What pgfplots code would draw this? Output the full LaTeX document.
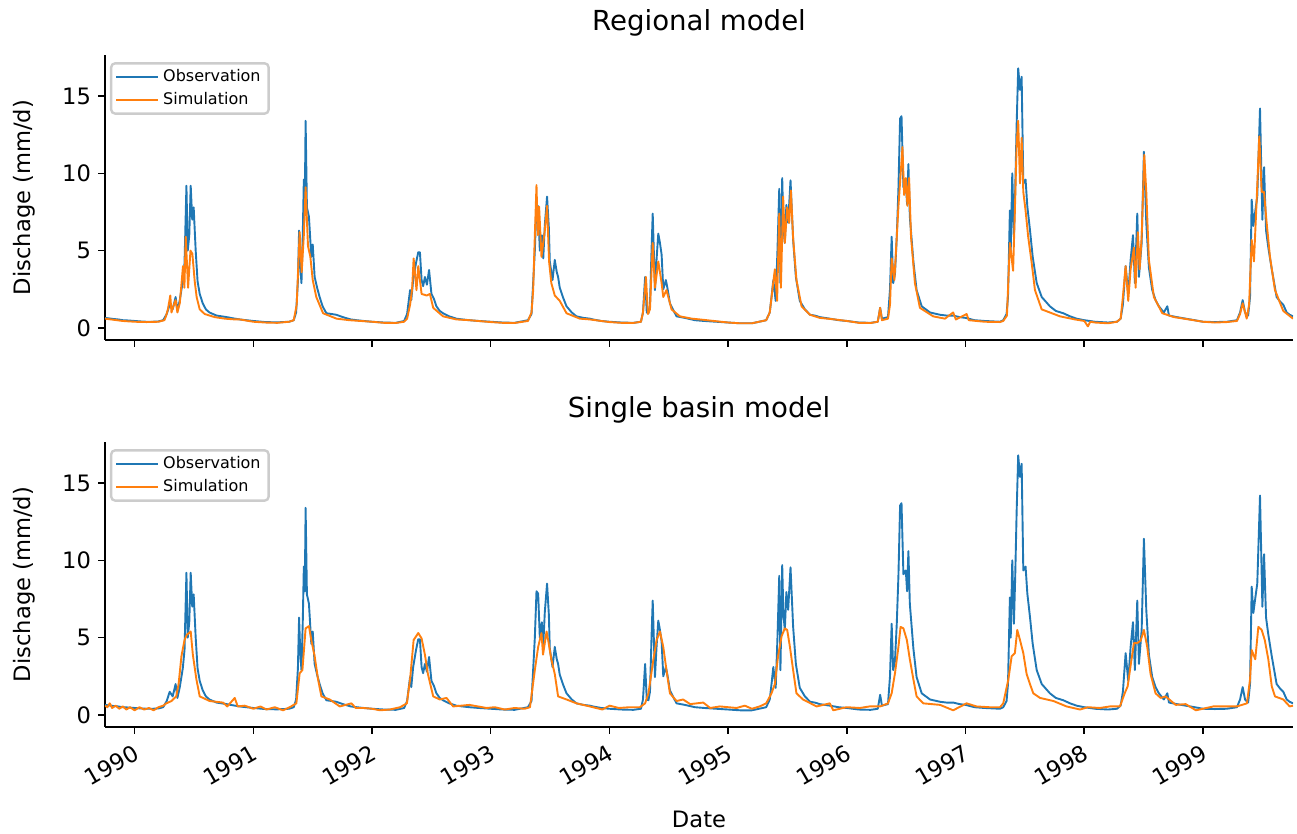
\documentclass[border=0pt]{standalone}
\usepackage{pgfplots}
\pgfplotsset{compat=1.18}
\usepackage{pgfplotstable}
\usepackage{fontspec}
\setmainfont{DejaVu Sans}
\definecolor{tabblue}{HTML}{1F77B4}
\definecolor{taborange}{HTML}{FF7F0E}

% observed discharge (mm/d), time in decimal years
\pgfplotstableread{
t q
1989.75 0.65
1989.78 0.62
1989.82 0.58
1989.86 0.55
1989.90 0.50
1989.95 0.48
1990.00 0.45
1990.05 0.42
1990.10 0.40
1990.15 0.40
1990.20 0.42
1990.24 0.50
1990.27 0.90
1990.295 1.5
1990.32 1.2
1990.345 2.0
1990.36 1.1
1990.38 1.8
1990.405 3.0
1990.42 4.2
1990.436 9.2
1990.447 5.0
1990.46 6.0
1990.472 9.2
1990.485 7.0
1990.497 7.8
1990.514 5.0
1990.53 3.0
1990.548 2.2
1990.573 1.6
1990.60 1.2
1990.63 1.0
1990.69 0.80
1990.775 0.70
1990.83 0.62
1990.885 0.55
1990.94 0.50
1991.00 0.45
1991.10 0.38
1991.20 0.36
1991.30 0.40
1991.34 0.50
1991.36 1.0
1991.375 3.0
1991.385 6.3
1991.395 4.0
1991.405 2.9
1991.416 6.0
1991.425 9.6
1991.433 8.0
1991.44 13.4
1991.451 7.8
1991.468 7.2
1991.488 4.6
1991.50 5.4
1991.516 3.3
1991.537 2.6
1991.558 2.0
1991.583 1.4
1991.615 0.95
1991.66 0.90
1991.70 0.85
1991.735 0.75
1991.775 0.65
1991.82 0.55
1991.87 0.50
1991.93 0.45
1992.00 0.40
1992.10 0.35
1992.20 0.33
1992.27 0.45
1992.295 0.9
1992.32 2.45
1992.33 1.8
1992.346 3.1
1992.37 4.2
1992.389 4.9
1992.403 4.9
1992.417 3.1
1992.43 2.7
1992.445 3.3
1992.462 2.8
1992.48 3.75
1992.50 2.2
1992.52 1.9
1992.542 1.4
1992.57 1.1
1992.598 0.95
1992.65 0.75
1992.71 0.60
1992.76 0.55
1992.82 0.50
1992.90 0.45
1993.00 0.40
1993.10 0.35
1993.20 0.33
1993.313 0.50
1993.343 0.9
1993.354 2.5
1993.371 5.0
1993.385 8.0
1993.399 7.85
1993.413 5.0
1993.43 6.0
1993.442 4.5
1993.455 6.65
1993.474 8.5
1993.489 6.5
1993.497 4.3
1993.52 3.1
1993.539 4.4
1993.556 3.6
1993.567 3.3
1993.581 2.6
1993.607 2.0
1993.638 1.4
1993.682 1.0
1993.722 0.75
1993.78 0.65
1993.834 0.60
1993.86 0.55
1993.93 0.45
1994.00 0.40
1994.10 0.35
1994.20 0.33
1994.265 0.40
1994.282 1.0
1994.30 3.3
1994.314 1.0
1994.328 0.95
1994.341 1.5
1994.354 5.0
1994.364 7.4
1994.383 2.45
1994.397 4.5
1994.411 6.1
1994.425 5.5
1994.439 4.75
1994.453 2.5
1994.475 3.1
1994.49 2.5
1994.509 1.6
1994.534 1.2
1994.565 0.75
1994.635 0.65
1994.72 0.50
1994.80 0.45
1994.90 0.40
1995.00 0.35
1995.10 0.30
1995.20 0.30
1995.32 0.50
1995.35 1.0
1995.365 2.0
1995.38 3.1
1995.40 1.75
1995.415 5.0
1995.43 9.0
1995.44 2.9
1995.455 9.7
1995.465 6.5
1995.477 5.5
1995.49 7.95
1995.505 6.8
1995.525 9.55
1995.547 5.7
1995.57 3.3
1995.603 1.75
1995.646 1.2
1995.69 0.85
1995.73 0.80
1995.772 0.70
1995.856 0.60
1995.93 0.50
1996.00 0.45
1996.10 0.35
1996.20 0.33
1996.26 0.40
1996.28 1.3
1996.295 0.60
1996.346 0.70
1996.363 2.5
1996.377 5.9
1996.39 2.9
1996.405 3.5
1996.42 5.9
1996.434 9.0
1996.448 13.55
1996.46 13.7
1996.476 9.1
1996.496 9.35
1996.507 8.0
1996.518 10.6
1996.53 7.2
1996.56 4.3
1996.587 2.45
1996.63 1.4
1996.70 1.0
1996.785 0.85
1996.84 0.80
1996.895 0.80
1996.95 0.70
1997.00 0.65
1997.075 0.50
1997.16 0.45
1997.29 0.40
1997.317 0.50
1997.345 0.9
1997.357 2.0
1997.373 7.6
1997.38 5.0
1997.393 10.0
1997.407 5.9
1997.418 9.0
1997.43 13.2
1997.443 16.8
1997.458 15.4
1997.472 16.25
1997.486 9.35
1997.505 9.6
1997.52 7.85
1997.542 6.35
1997.565 4.6
1997.599 2.9
1997.641 2.0
1997.71 1.4
1997.76 1.1
1997.823 0.95
1997.88 0.75
1997.935 0.60
1998.00 0.50
1998.09 0.40
1998.20 0.35
1998.275 0.40
1998.306 0.60
1998.325 1.5
1998.348 4.0
1998.37 2.2
1998.39 4.4
1998.41 6.0
1998.426 2.9
1998.446 7.4
1998.46 3.3
1998.483 5.5
1998.502 11.4
1998.522 6.8
1998.544 3.9
1998.572 2.45
1998.60 1.8
1998.628 1.4
1998.67 1.0
1998.699 1.4
1998.713 0.80
1998.78 0.70
1998.854 0.60
1998.93 0.50
1999.00 0.40
1999.10 0.38
1999.20 0.40
1999.286 0.50
1999.312 1.0
1999.334 1.8
1999.354 1.0
1999.38 0.8
1999.396 2.0
1999.41 8.3
1999.424 6.6
1999.441 7.6
1999.457 8.5
1999.48 14.2
1999.50 7.0
1999.514 10.4
1999.531 6.3
1999.55 5.2
1999.579 3.8
1999.62 2.0
1999.65 1.7
1999.676 1.5
1999.705 1.0
1999.73 0.85
1999.758 0.75
}\obs

% regional model simulation
\pgfplotstableread{
t q
1989.75 0.60
1989.80 0.55
1989.90 0.45
1990.00 0.40
1990.10 0.38
1990.20 0.40
1990.25 0.50
1990.261 0.70
1990.28 1.2
1990.30 2.1
1990.31 1.0
1990.33 1.5
1990.345 1.8
1990.36 1.0
1990.38 1.6
1990.396 3.0
1990.407 4.0
1990.419 2.6
1990.43 5.9
1990.45 2.6
1990.47 5.0
1990.486 4.8
1990.506 3.0
1990.522 2.0
1990.548 1.2
1990.59 0.90
1990.674 0.70
1990.76 0.60
1990.843 0.55
1990.885 0.55
1991.00 0.40
1991.10 0.35
1991.20 0.33
1991.30 0.40
1991.34 0.50
1991.365 1.5
1991.39 6.2
1991.407 3.6
1991.425 6.0
1991.44 9.1
1991.46 5.3
1991.48 4.6
1991.50 3.1
1991.53 2.0
1991.587 0.95
1991.70 0.60
1991.81 0.50
1992.00 0.40
1992.10 0.33
1992.20 0.32
1992.27 0.40
1992.295 0.60
1992.32 1.5
1992.337 2.5
1992.35 4.5
1992.374 2.45
1992.389 4.0
1992.417 2.2
1992.46 2.1
1992.487 2.2
1992.515 1.3
1992.598 0.75
1992.71 0.55
1992.82 0.50
1993.00 0.38
1993.10 0.33
1993.20 0.32
1993.313 0.45
1993.343 1.0
1993.357 2.45
1993.371 6.0
1993.385 9.25
1993.396 6.0
1993.407 7.85
1993.427 4.6
1993.455 6.3
1993.474 7.9
1993.491 4.3
1993.51 2.9
1993.539 2.1
1993.581 1.75
1993.638 0.95
1993.75 0.60
1993.834 0.55
1994.00 0.38
1994.10 0.33
1994.20 0.32
1994.265 0.40
1994.282 1.0
1994.307 3.3
1994.324 0.90
1994.341 1.2
1994.364 5.5
1994.383 2.6
1994.411 4.3
1994.439 2.9
1994.453 2.0
1994.48 2.45
1994.523 1.2
1994.593 0.75
1994.694 0.60
1994.76 0.55
1995.00 0.35
1995.10 0.30
1995.20 0.30
1995.32 0.50
1995.35 1.0
1995.393 3.8
1995.412 1.75
1995.43 7.4
1995.444 2.6
1995.463 8.5
1995.477 5.5
1995.497 7.8
1995.514 6.8
1995.528 8.9
1995.547 5.8
1995.575 3.1
1995.618 1.4
1995.69 0.85
1995.772 0.65
1995.898 0.55
1996.00 0.45
1996.10 0.33
1996.20 0.32
1996.26 0.40
1996.28 1.3
1996.295 0.50
1996.346 0.60
1996.363 1.5
1996.377 4.5
1996.40 3.1
1996.434 7.85
1996.468 11.7
1996.482 8.6
1996.496 9.7
1996.51 7.9
1996.524 9.7
1996.54 5.9
1996.573 2.9
1996.615 1.3
1996.727 0.75
1996.826 0.60
1996.895 1.0
1996.918 0.55
1997.008 0.90
1997.027 0.50
1997.16 0.40
1997.29 0.38
1997.317 0.45
1997.348 0.80
1997.373 5.5
1997.40 3.7
1997.415 7.6
1997.43 11.9
1997.443 13.4
1997.458 9.35
1997.472 12.3
1997.486 8.8
1997.505 7.6
1997.527 5.9
1997.555 4.3
1997.584 2.45
1997.641 1.2
1997.795 0.75
1997.921 0.55
1998.00 0.45
1998.03 0.10
1998.05 0.40
1998.09 0.35
1998.20 0.30
1998.275 0.40
1998.306 0.60
1998.325 2.0
1998.348 4.0
1998.37 1.75
1998.39 3.8
1998.418 5.2
1998.432 2.6
1998.451 6.2
1998.466 3.8
1998.483 5.9
1998.505 11.2
1998.522 8.8
1998.544 4.4
1998.586 2.0
1998.657 0.95
1998.756 0.70
1998.88 0.55
1999.00 0.40
1999.10 0.35
1999.20 0.38
1999.286 0.45
1999.312 0.90
1999.334 1.6
1999.368 0.60
1999.388 1.5
1999.41 5.7
1999.429 4.3
1999.452 8.3
1999.474 12.4
1999.494 8.8
1999.514 8.8
1999.536 6.8
1999.564 4.6
1999.606 2.45
1999.676 1.1
1999.758 0.60
}\simreg

% single basin model simulation
\pgfplotstableread{
t q
1989.75 0.60
1989.77 0.50
1989.79 0.75
1989.81 0.45
1989.84 0.60
1989.87 0.40
1989.90 0.55
1989.93 0.35
1989.96 0.50
1990.00 0.30
1990.04 0.50
1990.08 0.35
1990.12 0.45
1990.16 0.30
1990.20 0.50
1990.24 0.60
1990.267 0.75
1990.31 0.90
1990.35 1.2
1990.37 2.0
1990.394 3.8
1990.42 4.85
1990.44 5.2
1990.458 5.3
1990.472 5.4
1990.49 3.9
1990.52 2.3
1990.548 1.2
1990.632 0.90
1990.744 0.80
1990.78 0.55
1990.843 1.1
1990.868 0.55
1990.927 0.60
1991.00 0.40
1991.06 0.55
1991.11 0.35
1991.18 0.50
1991.25 0.30
1991.306 0.50
1991.362 0.75
1991.39 2.7
1991.413 2.9
1991.44 5.6
1991.468 5.75
1991.488 4.85
1991.516 3.8
1991.545 2.3
1991.573 1.2
1991.643 1.0
1991.728 0.55
1991.826 0.75
1991.862 0.45
1991.924 0.45
1992.00 0.40
1992.066 0.30
1992.15 0.35
1992.236 0.50
1992.293 0.75
1992.32 2.3
1992.35 4.85
1992.389 5.3
1992.417 4.95
1992.445 3.9
1992.47 2.65
1992.515 1.2
1992.57 1.0
1992.627 1.1
1992.683 0.55
1992.82 0.65
1992.964 0.45
1993.034 0.50
1993.118 0.35
1993.20 0.45
1993.286 0.40
1993.33 0.50
1993.371 2.9
1993.399 4.4
1993.427 5.3
1993.44 3.9
1993.47 5.4
1993.483 4.85
1993.51 3.6
1993.539 2.65
1993.567 1.2
1993.638 1.0
1993.722 0.75
1993.834 0.55
1993.94 0.35
1994.00 0.60
1994.08 0.45
1994.17 0.50
1994.256 0.50
1994.30 0.75
1994.328 1.4
1994.37 3.6
1994.397 4.85
1994.425 5.4
1994.453 4.4
1994.48 2.9
1994.509 1.4
1994.565 0.90
1994.62 1.0
1994.68 0.70
1994.79 0.80
1994.848 0.45
1994.93 0.55
1995.07 0.45
1995.14 0.60
1995.20 0.40
1995.265 0.55
1995.32 0.75
1995.365 1.4
1995.393 2.0
1995.42 3.8
1995.45 5.1
1995.477 5.6
1995.497 5.5
1995.52 4.4
1995.547 2.9
1995.575 1.4
1995.63 1.0
1995.745 0.55
1995.856 0.75
1995.885 0.30
1995.997 0.50
1996.11 0.45
1996.19 0.55
1996.28 0.55
1996.346 0.75
1996.377 1.4
1996.405 2.7
1996.434 4.4
1996.452 5.7
1996.476 5.6
1996.505 4.85
1996.53 3.6
1996.56 2.3
1996.587 1.2
1996.643 0.75
1996.785 0.65
1996.895 0.30
1997.008 0.75
1997.092 0.55
1997.20 0.50
1997.29 0.50
1997.317 0.75
1997.36 2.3
1997.388 3.8
1997.415 4.0
1997.435 5.5
1997.458 4.85
1997.486 4.0
1997.514 2.65
1997.542 2.0
1997.57 1.4
1997.627 1.1
1997.74 0.90
1997.85 0.55
1997.964 0.35
1998.03 0.50
1998.13 0.45
1998.215 0.55
1998.30 0.55
1998.34 1.4
1998.365 1.85
1998.39 3.2
1998.418 4.65
1998.446 4.65
1998.474 4.8
1998.502 5.5
1998.53 4.4
1998.558 2.65
1998.60 1.4
1998.643 1.1
1998.685 1.2
1998.77 0.65
1998.854 0.70
1998.94 0.30
1999.087 0.55
1999.20 0.55
1999.285 0.55
1999.37 0.75
1999.396 2.3
1999.41 4.2
1999.44 3.6
1999.466 5.7
1999.494 5.5
1999.52 4.85
1999.55 3.6
1999.579 1.85
1999.606 1.2
1999.676 1.0
1999.73 0.55
1999.758 0.60
}\simsb

\pgfplotsset{
  hydro/.style={
    scale only axis, width=594pt, height=142.5pt,
    xmin=1989.75, xmax=1999.758, ymin=-0.78, ymax=17.66,
    xtick={1990,...,1999}, ytick={0,5,10,15},
    axis x line*=bottom, axis y line*=left,
    axis line style={-, line width=0.75pt},
    tick align=outside, major tick length=3.5pt,
    every tick/.style={black, line width=0.75pt},
    /pgf/number format/assume math mode=true,
    /pgf/number format/1000 sep={},
    tick label style={font=\fontsize{11.3}{13}\selectfont},
    label style={font=\fontsize{11.3}{13}\selectfont},
    title style={font=\fontsize{13.8}{16}\selectfont, yshift=0pt},
    ylabel={Dischage (mm/d)}, ylabel shift=6.5pt,
    legend style={at={(0.0042,0.975)}, anchor=north west,
      font=\fontsize{8}{9.5}\selectfont, draw=black!20, line width=1.2pt,
      rounded corners=2pt, fill=white, fill opacity=0.8, text opacity=1,
      inner xsep=2pt, inner ysep=1pt},
    legend image code/.code={
      \draw[#1] (0cm,0cm) -- (0.64cm,0cm);
      \path (0.64cm,0cm) -- (0.74cm,0cm);},
    legend cell align=left,
    obsline/.style={tabblue, line width=0.95pt, line join=round},
    simline/.style={taborange, line width=0.95pt, line join=round},
  }
}

\begin{document}
\begin{tikzpicture}
\path[use as bounding box] (0,0) rectangle (648.5pt,417pt);

\begin{axis}[hydro, at={(52.5pt,247pt)}, anchor=south west,
  title={Regional model}, xticklabels={}]
\addplot[obsline] table[x=t,y=q] {\obs};
\addlegendentry{Observation}
\addplot[simline] table[x=t,y=q] {\simreg};
\addlegendentry{Simulation}
\end{axis}

\begin{axis}[hydro, at={(52.5pt,53.5pt)}, anchor=south west,
  title={Single basin model}, xlabel={Date},
  xlabel style={yshift=-4pt},
  xticklabel style={rotate=30, anchor=north east}]
\addplot[obsline] table[x=t,y=q] {\obs};
\addlegendentry{Observation}
\addplot[simline] table[x=t,y=q] {\simsb};
\addlegendentry{Simulation}
\end{axis}
\end{tikzpicture}
\end{document}
